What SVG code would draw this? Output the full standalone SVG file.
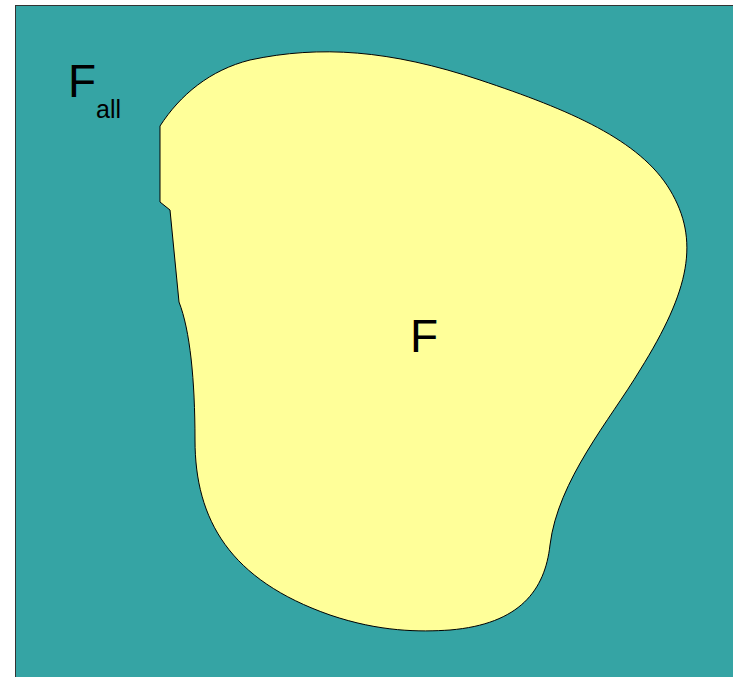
<svg xmlns="http://www.w3.org/2000/svg" width="733" height="677" viewBox="0 0 733 677">
<style>
.lbl{font-family:"Liberation Sans",Arial,sans-serif;fill:#000}
</style>
<rect width="733" height="677" fill="#fff"/>
<g id="Fall">
<rect x="15.5" y="5.5" width="740" height="690" fill="#35a4a4" stroke="#333" stroke-width="1"/>
<text class="lbl" x="68" y="97" font-size="46">F</text>
<text class="lbl" x="96" y="118" font-size="25">all</text>
</g>
<g id="F">
<path d="M160,126 L160,202 L170,210 L179,302 C190,330 195,380 195,440 C195,520 230,580 330,615 C380,632 420,632 450,630 C520,624 545,590 550,545 C558,480 610,420 640,370 C690,290 700,240 670,190 C640,140 570,110 480,80 C390,50 320,45 250,60 C210,70 180,95 160,126 Z" fill="#ffff99" stroke="#000" stroke-width="1"/>
<text class="lbl" x="410" y="352" font-size="46">F</text>
</g>
</svg>
